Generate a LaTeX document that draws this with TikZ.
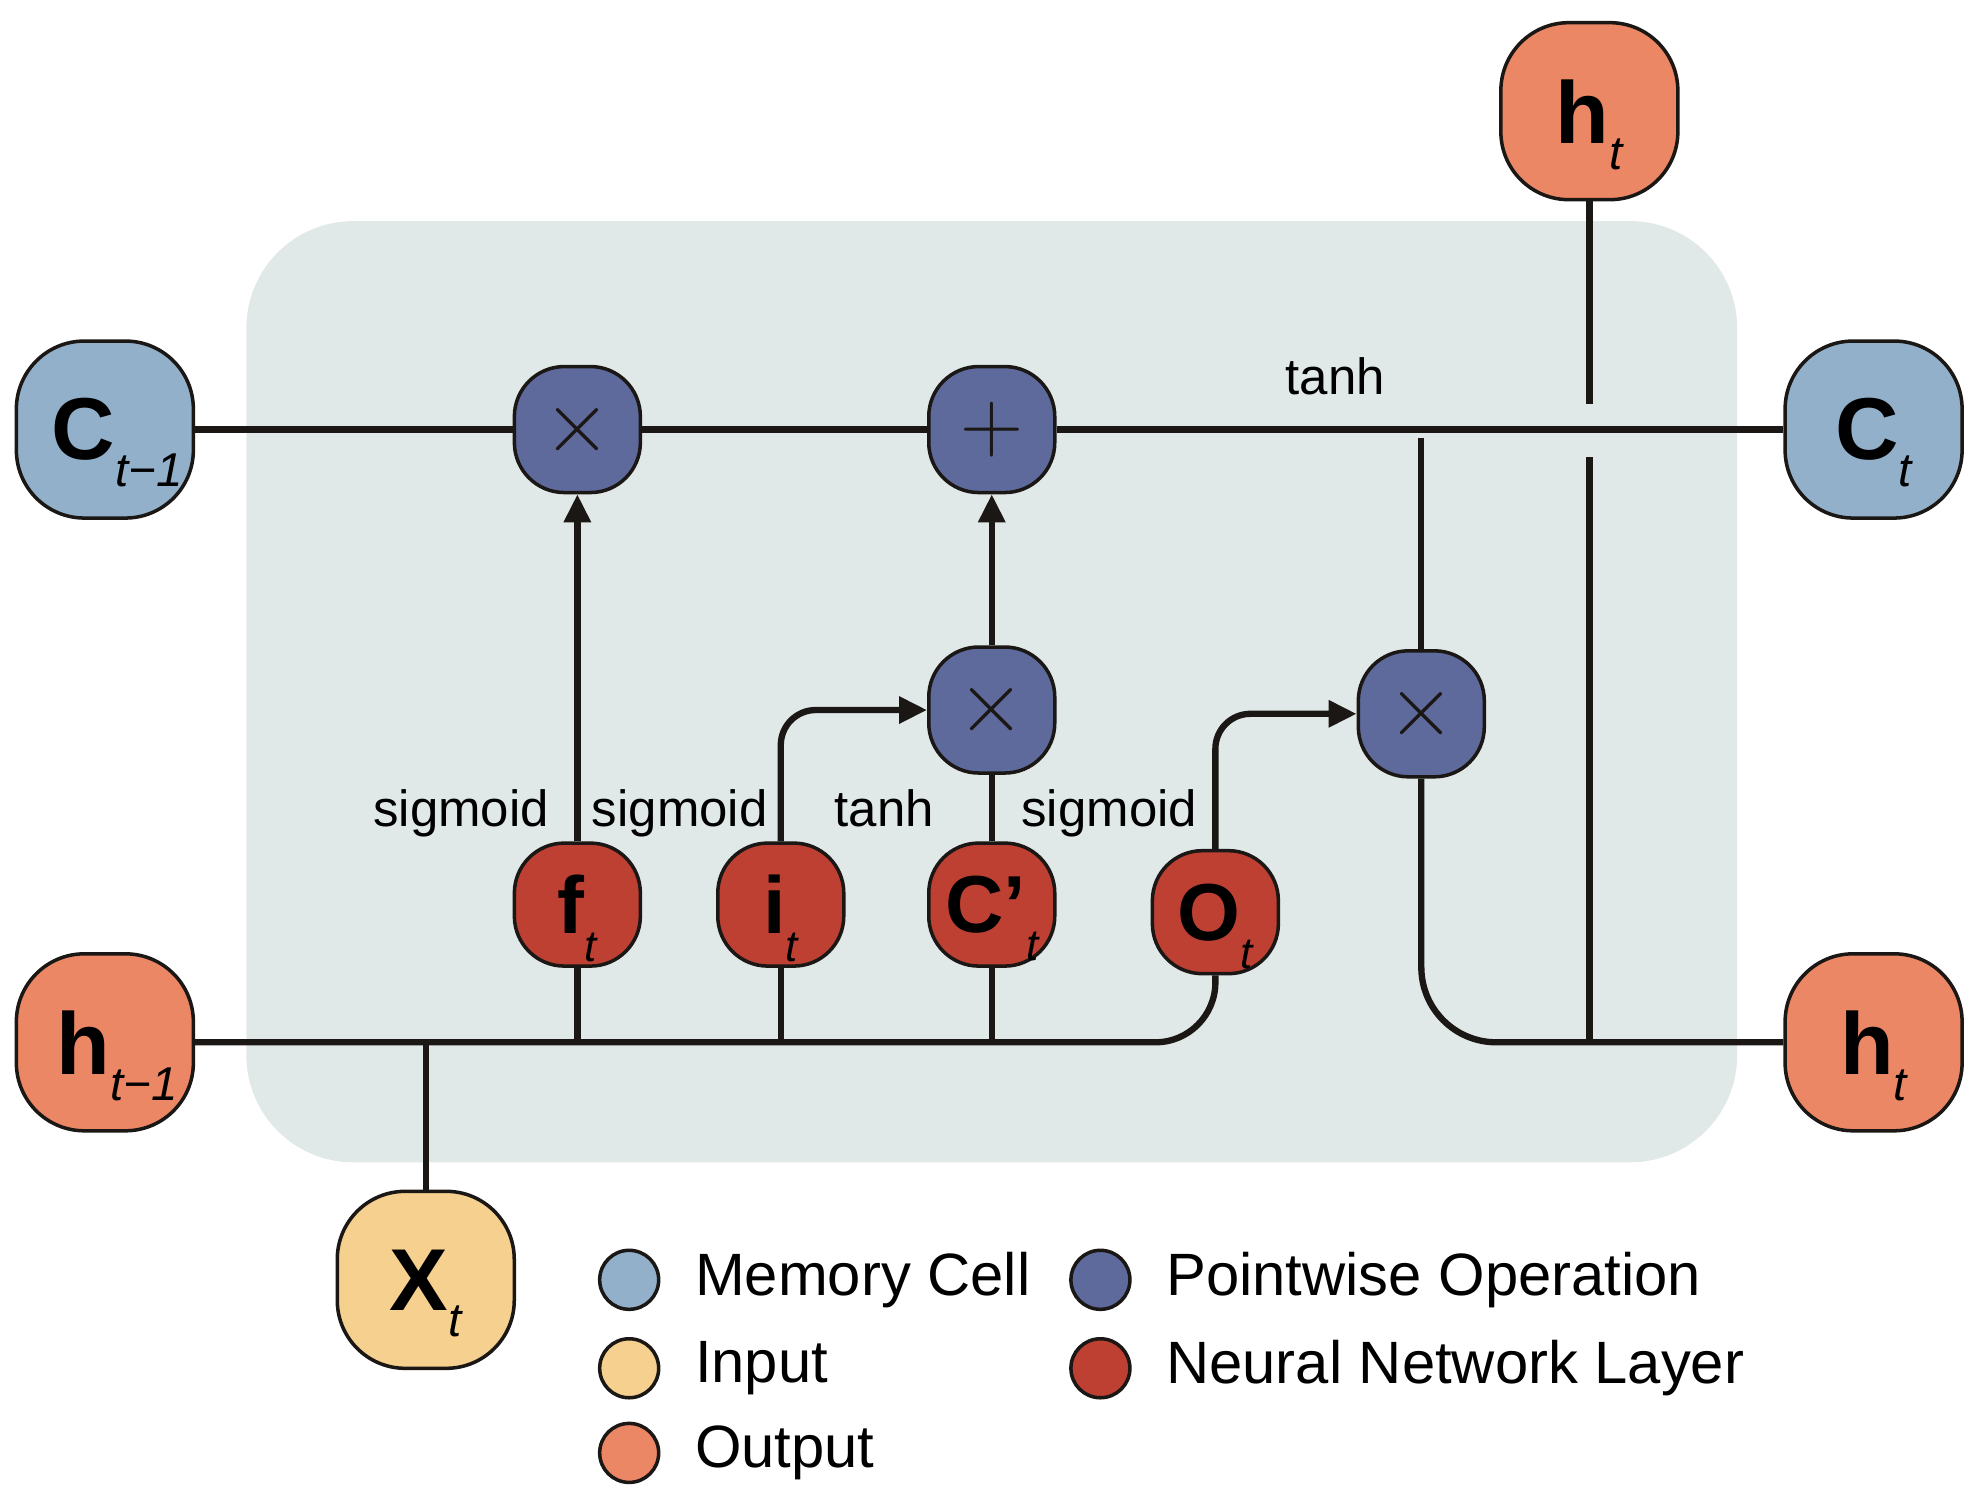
\documentclass[tikz,border=0pt]{standalone}
\usepackage{fontspec}
\setmainfont{Liberation Sans}
\usetikzlibrary{positioning,arrows.meta}

\definecolor{memblue}{RGB}{147,176,203}
\definecolor{pwblue}{RGB}{94,106,156}
\definecolor{nnred}{RGB}{190,64,51}
\definecolor{outorange}{RGB}{236,135,101}
\definecolor{inyellow}{RGB}{245,208,142}
\definecolor{cellbg}{RGB}{225,233,232}
\definecolor{linecol}{RGB}{26,23,20}

\newcommand{\statelbl}[2]{{\fontsize{25}{25}\selectfont\bfseries #1}\raisebox{-7.5pt}[0pt][0pt]{\fontsize{13.5}{13.5}\selectfont\itshape #2}}
\newcommand{\gatelbl}[2]{{\fontsize{23}{23}\selectfont\bfseries #1}\raisebox{-8pt}[0pt][0pt]{\fontsize{12.5}{12.5}\selectfont\itshape #2}}

\tikzstyle{bignode}=[draw=linecol,line width=1pt,rounded corners=0.68cm,
minimum width=1.77cm,minimum height=1.77cm,inner sep=0pt]
\tikzstyle{memory}=[bignode,fill=memblue]
\tikzstyle{output}=[bignode,fill=outorange]
\tikzstyle{input}=[bignode,fill=inyellow]
\tikzstyle{pointwise}=[draw=linecol,line width=1pt,fill=pwblue,rounded corners=0.5cm,
minimum width=1.26cm,minimum height=1.26cm,inner sep=0pt,text=linecol,
font=\fontsize{32}{32}\selectfont]
\tikzstyle{layer}=[draw=linecol,line width=1pt,fill=nnred,rounded corners=0.5cm,
minimum width=1.26cm,minimum height=1.23cm,inner sep=0pt]
\tikzstyle{line} = [draw, line width=1.8pt, color=linecol]
\tikzstyle{arrow} = [line, -{Triangle[length=0.28cm,width=0.26cm]}]
\tikzstyle{fn}=[font=\fontsize{14.5}{14.5}\selectfont,inner sep=0pt,anchor=base]
\tikzstyle{legdot}=[circle,draw=linecol,line width=1pt,minimum size=0.59cm,inner sep=0pt]
\tikzstyle{legtext}=[font=\fontsize{17}{17}\selectfont,inner sep=0pt]

\begin{document}
\begin{tikzpicture}[x=0.012634cm,y=-0.012634cm]
\useasboundingbox (0,0) rectangle (1568,1188);
\fill[cellbg,rounded corners=1.07cm] (195,175) rectangle (1375,920);

% states
\node [memory] (cprev) at (83,340) {\hspace{0.25cm}\statelbl{C}{t−1}};
\node [memory] (cnext) at (1483,340) {\statelbl{C}{t}};
\node [output] (htop) at (1258,88) {\statelbl{h}{t}};
\node [output] (hnext) at (1483,825) {\statelbl{h}{t}};
\node [output] (hprev) at (83,825) {\hspace{0.25cm}\statelbl{h}{t−1}};
\node [input] (xin) at (337,1013) {\statelbl{X}{t}};

% pointwise operations
\node [pointwise] (forget) at (457,340) {$\times$};
\node [pointwise] (add) at (785,340) {$+$};
\node [pointwise] (scale) at (785,562) {$\times$};
\node [pointwise] (outmul) at (1125,565) {$\times$};

% layers
\node [layer] (ft) at (457,716) {\gatelbl{f}{t}};
\node [layer] (it) at (618,716) {\gatelbl{i}{t}};
\node [layer] (ct) at (785,716) {\gatelbl{C’}{t}};
\node [layer] (ot) at (962,722) {\gatelbl{O}{t}};

\node [fn] (sigf) at (365,654) {sigmoid};
\node [fn] (sigi) at (538,654) {sigmoid};
\node [fn] (tanc) at (700,654) {tanh};
\node [fn] (sigo) at (878,654) {sigmoid};
\node [fn] (tanout) at (1057,312) {tanh};

\coordinate (tanhtap) at (1125,347);
\coordinate (gaptop) at (1258,320);
\coordinate (gapbot) at (1258,362);
\coordinate (hjoin) at (1258,825);

\path [line] (cprev) -- (forget);
\path [line] (forget) -- (add);
\path [line] (add) -- (cnext);
\path [line] (htop) -- (gaptop);
\path [line] (gapbot) -- (hjoin);
\path [line] (tanhtap) -- (outmul);
\path [line,rounded corners=0.75cm] (outmul) |- (hnext);
\path [line,rounded corners=0.6cm] (hprev) -| (ot);
\path [line] (xin) -- (xin |- hprev);
\path [line] (ft) -- (ft |- hprev);
\path [line] (it) -- (it |- hprev);
\path [line] (ct) -- (ct |- hprev);
\path [line] (ct) -- (scale);
\path [arrow] (ft) -- (forget);
\path [arrow] (scale) -- (add);
\path [arrow,rounded corners=0.35cm] (it) |- (scale);
\path [arrow,rounded corners=0.35cm] (ot) |- (outmul);

% legend
\node [legdot,fill=memblue] (lgmem) at (498,1013) {};
\node [legtext,right=0.34cm of lgmem] (lgmemt) {Memory Cell};
\node [legdot,fill=inyellow] (lgin) at (498,1083) {};
\node [legtext,right=0.34cm of lgin] (lgint) {Input};
\node [legdot,fill=outorange] (lgout) at (498,1150) {};
\node [legtext,right=0.34cm of lgout] (lgoutt) {Output};
\node [legdot,fill=pwblue] (lgpw) at (871,1013) {};
\node [legtext,right=0.34cm of lgpw] (lgpwt) {Pointwise Operation};
\node [legdot,fill=nnred] (lgnn) at (871,1083) {};
\node [legtext,right=0.34cm of lgnn] (lgnnt) {Neural Network Layer};
\end{tikzpicture}
\end{document}
